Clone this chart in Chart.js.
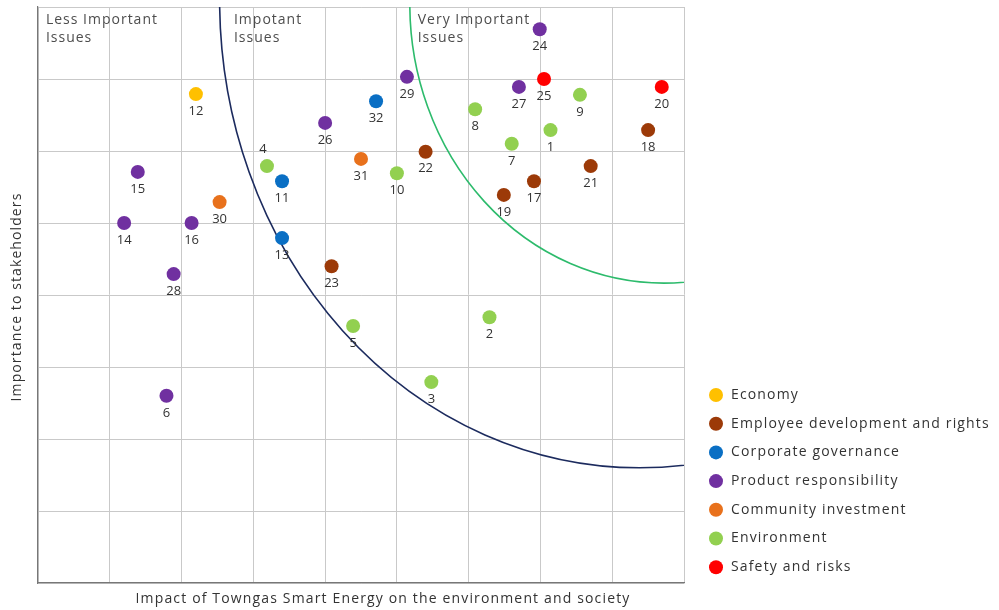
<!DOCTYPE html>
<html><head><meta charset="utf-8">
<script src="https://cdn.jsdelivr.net/npm/chart.js@4.4.1/dist/chart.umd.min.js"></script>
<style>html,body{margin:0;padding:0;background:#fff}canvas{display:block}</style>
</head><body>
<canvas id="c" width="999" height="610"></canvas>
<script>
// ---- data ----
const categories = ['Economy','Employee development and rights','Corporate governance','Product responsibility','Community investment','Environment','Safety and risks'];
const colors = ['#ffc000','#9c3a08','#0a6fc4','#7030a0','#e8711c','#92d050','#ff0000'];
const issueIds = [
  [12],
  [18,21,17,19,22,23],
  [32,11,13],
  [24,29,27,26,15,14,16,28,6],
  [31,30],
  [8,9,1,7,10,4,5,2,3],
  [25,20]
];
const impact = [
  [2.20],
  [8.50,7.70,6.91,6.49,5.40,4.09],
  [4.71,3.40,3.40],
  [6.99,5.14,6.70,4.00,1.39,1.20,2.14,1.89,1.79],
  [4.50,2.53],
  [6.09,7.55,7.14,6.60,5.00,3.19,4.39,6.29,5.48],
  [7.05,8.69]
];
const importance = [
  [6.79],
  [6.29,5.79,5.58,5.39,5.99,4.40],
  [6.69,5.58,4.79],
  [7.69,7.03,6.89,6.39,5.71,5.00,5.00,4.29,2.60],
  [5.89,5.29],
  [6.58,6.78,6.29,6.10,5.69,5.79,3.57,3.69,2.79],
  [7.00,6.89]
];
const labelsAbove = [4];
const zoneLabels = [['Less Important','Issues'],['Impotant','Issues'],['Very Important','Issues']];
const zoneX = [0.11, 2.73, 5.29];
// boundary curves: [centerX, centerY, radiusX, radiusY] in axis units
const boundaryNavy = [8.38, 8.10, 5.85, 6.50];
const boundaryGreen = [8.72, 8.04, 3.54, 3.875];
const xTitle = 'Impact of Towngas Smart Energy on the environment and society';
const yTitle = 'Importance to stakeholders';

const datasets = categories.map((name,i)=>({
  label: name,
  data: impact[i].map((x,j)=>({x:x, y:importance[i][j], id:issueIds[i][j]})),
  backgroundColor: colors[i],
  borderWidth: 0,
  pointRadius: 7,
  pointHoverRadius: 7
}));

const decor = {
  id:'decor',
  beforeDatasetsDraw(chart){
    const {ctx, chartArea:a, scales:{x,y}} = chart;
    ctx.save();
    ctx.beginPath(); ctx.rect(a.left,a.top,a.right-a.left,a.bottom-a.top); ctx.clip();
    [[boundaryNavy,'#1c2b5e'],[boundaryGreen,'#2dbb6c']].forEach(([b,col])=>{
      const cx=x.getPixelForValue(b[0]), cy=y.getPixelForValue(b[1]);
      const rx=x.getPixelForValue(b[0])-x.getPixelForValue(b[0]-b[2]);
      const ry=y.getPixelForValue(b[1]-b[3])-cy;
      ctx.beginPath(); ctx.ellipse(cx,cy,rx,ry,0,0,Math.PI*2);
      ctx.strokeStyle=col; ctx.lineWidth=1.6; ctx.stroke();
    });
    ctx.restore();
    // zone labels
    ctx.save();
    ctx.font='14px "Open Sans"'; ctx.fillStyle='#4d4d4d'; ctx.textBaseline='middle';
    ctx.letterSpacing='1px';
    zoneLabels.forEach((ls,i)=>{
      const px=x.getPixelForValue(zoneX[i]);
      ls.forEach((t,k)=>ctx.fillText(t,px,a.top+13+k*18));
    });
    ctx.restore();
  },
  afterDatasetsDraw(chart){
    const {ctx, chartArea:a} = chart;
    ctx.save();
    ctx.font='13px "Open Sans"'; ctx.fillStyle='#333'; ctx.textAlign='center'; ctx.textBaseline='middle';
    chart.data.datasets.forEach((ds,i)=>{
      chart.getDatasetMeta(i).data.forEach((el,j)=>{
        const id=ds.data[j].id;
        if(labelsAbove.includes(id)) ctx.fillText(String(id),el.x-4,el.y-17);
        else ctx.fillText(String(id),el.x,el.y+17);
      });
    });
    // axis titles
    ctx.font='14px "Open Sans"'; ctx.fillStyle='#333';
    ctx.letterSpacing='1.15px';
    ctx.fillText(xTitle,383,599);
    ctx.save(); ctx.translate(17,297); ctx.rotate(-Math.PI/2);
    ctx.letterSpacing='1.1px';
    ctx.fillText(yTitle,0,0); ctx.restore();
    // legend
    ctx.textAlign='left'; ctx.letterSpacing='1.15px';
    chart.data.datasets.forEach((ds,i)=>{
      const yy=395+i*28.7;
      ctx.beginPath(); ctx.arc(716,yy,7,0,Math.PI*2); ctx.fillStyle=ds.backgroundColor; ctx.fill();
      ctx.fillStyle='#333'; ctx.fillText(ds.label,731,yy);
    });
    ctx.restore();
  }
};

new Chart(document.getElementById('c'),{
  type:'scatter',
  data:{datasets},
  options:{
    responsive:false, animation:false,
    layout:{padding:{left:38,top:7,right:315,bottom:27}},
    plugins:{legend:{display:false},tooltip:{enabled:false}},
    scales:{
      x:{type:'linear',min:0,max:9,
        ticks:{display:false,stepSize:1},
        grid:{color:'#c9c9c9',drawTicks:false,lineWidth:1},
        border:{color:'#777',width:1.2}},
      y:{type:'linear',min:0,max:8,
        ticks:{display:false,stepSize:1},
        grid:{color:'#c9c9c9',drawTicks:false,lineWidth:1},
        border:{color:'#777',width:1.2}}
    }
  },
  plugins:[decor]
});
</script>
</body></html>
